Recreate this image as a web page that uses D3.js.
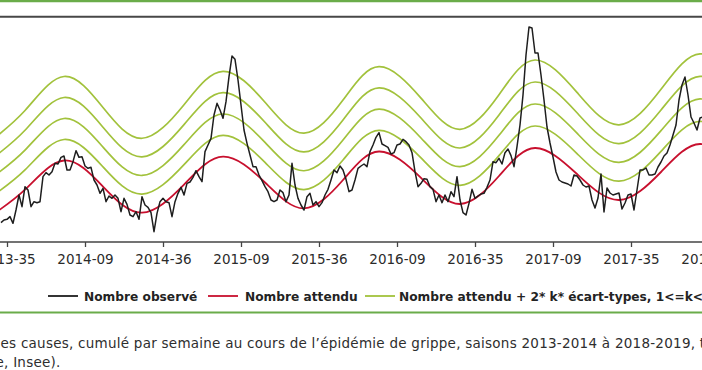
<!DOCTYPE html>
<html>
<head>
<meta charset="utf-8">
<script src="https://cdn.jsdelivr.net/npm/d3@7/dist/d3.min.js"></script>
<style>
  html, body { margin: 0; padding: 0; background: #fff; }
  svg { display: block; }
  text { font-family: "DejaVu Sans", sans-serif; }
</style>
</head>
<body>
<svg id="chart" width="702" height="370"></svg>
<script>
// ---- Data (weekly, index 0 = 2013-35) ----
const tickWeeks  = [0, 26, 52, 78, 104, 130, 156, 182, 208, 234];
const tickLabels = ["2013-35","2014-09","2014-36","2015-09","2015-36","2016-09","2016-35","2017-09","2017-35","2018-09"];

// Observed weekly deaths, starting at week index -2
const observedStart = -2;
const observed = [
  9580, 9660, 9680, 9760, 9560, 9960, 10410, 10060, 10660, 10560,
  10060, 10210, 10180, 10210, 10960, 11080, 11010, 11110, 11360, 11340,
  11540, 11580, 11160, 11160, 11410, 11740, 11540, 11560, 11280, 11210,
  11240, 10860, 10710, 10460, 10610, 10210, 10380, 10310, 10410, 10310,
  9910, 10310, 10130, 9810, 9760, 9910, 9680, 10360, 10110, 10040,
  9880, 9310, 9860, 10210, 10310, 10210, 10180, 9760, 10210, 10460,
  10640, 10410, 10760, 10800, 10940, 11140, 10960, 10810, 11710, 11910,
  12110, 12810, 13160, 12960, 12710, 13210, 13960, 14580, 14480, 13860,
  13110, 12360, 11960, 11610, 11260, 11260, 11010, 10840, 10660, 10510,
  10260, 10210, 10260, 10560, 10480, 10210, 10410, 11360, 10710, 10310,
  10110, 9960, 10360, 10460, 10110, 10210, 10060, 10180, 10410, 10580,
  10860, 11160, 11080, 11280, 11160, 10880, 10510, 10560,
  10860, 11210, 11280, 11340, 11260, 11710, 11910, 12140, 12280, 11940,
  11890, 11840, 11640, 11680, 11910, 11940, 12080, 12010, 11910, 11680,
  11110, 10660, 10760, 10900, 10880, 10660, 10580, 10210, 10410, 10180,
  10410, 10210, 10510, 10360, 10960, 10260, 9880, 9810, 10160, 10580,
  10310, 10380, 10440, 10460, 10640, 10860, 11410, 11380, 11510, 11340,
  11680, 11790, 11590, 11260, 11860,
  12510, 13410, 14610,
  15450, 15420, 14670, 14670, 14010, 13260, 12450, 11970, 11550, 11100,
  10860, 10800, 10770, 10740, 10680, 11010, 10980, 10860, 10710, 10650,
  10680, 10260, 10020, 10320, 11040, 9900, 10620, 10470, 10410, 10440,
  10470, 9990, 10170, 10410, 10440, 9960, 10560, 11160, 11160, 11220,
  11010, 11010, 11040, 11250, 11400, 11580, 11670, 11910, 12210, 12510,
  13260, 13710, 13950, 13410, 12750, 12570, 12360, 12720, 12750
];

// Expected (baseline) and standard deviation, read at sample weeks
const modelWeeks = [-7, 6, 19, 32, 45, 59, 72, 86, 99, 112, 124, 138, 151, 164, 176, 190, 204, 218, 231, 245];
const expected   = [9690, 10570, 11445, 10660, 9880, 10720, 11560, 10785, 10010, 10860, 11715, 10925, 10140, 10980, 11820, 11040, 10260, 11100, 11940, 11160];
const ecartType  = [279, 297, 315, 297, 279, 300, 320, 301, 282, 300, 318, 299, 280, 305, 330, 306, 282, 310, 338, 315];
const kLevels    = [1, 2, 3, 4];

const legendLabels = ["Nombre observé", "Nombre attendu", "Nombre attendu + 2* k* écart-types, 1<=k<=4"];
const captionLines = [
  "es causes, cumulé par semaine au cours de l’épidémie de grippe, saisons 2013-2014 à 2018-2019, tous âges",
  "e, Insee)."
];

// ---- Drawing ----
const svg = d3.select("#chart");
const W = 702;
const axisY = 242, topY = 16;

const x = d3.scaleLinear().domain([0, 234]).range([7, 709]);
const y = d3.scaleLinear().domain([9000, 15780]).range([axisY, topY]);

const colBlack = "#1e1e1e", colRed = "#c8102e", colGreen = "#a2c23c", colSep = "#6aac4a";

// top rules
svg.append("line").attr("x1", 0).attr("x2", W).attr("y1", 1).attr("y2", 1)
  .attr("stroke", colSep).attr("stroke-width", 2.3);
svg.append("line").attr("x1", 0).attr("x2", W).attr("y1", 16.7).attr("y2", 16.7)
  .attr("stroke", "#474747").attr("stroke-width", 2);

svg.append("defs").append("clipPath").attr("id", "plotclip")
  .append("rect").attr("x", 0).attr("y", topY + 1.5).attr("width", W).attr("height", axisY - topY - 1.5);

const plot = svg.append("g").attr("clip-path", "url(#plotclip)");

const modelRows = modelWeeks.map((w, i) => ({ w, e: expected[i], s: ecartType[i] }));

const smooth = d3.line().curve(d3.curveNatural);

kLevels.forEach(k => {
  plot.append("path")
    .attr("d", smooth(modelRows.map(r => [x(r.w), y(r.e + 2 * k * r.s)])))
    .attr("fill", "none").attr("stroke", colGreen).attr("stroke-width", 1.7);
});

plot.append("path")
  .attr("d", smooth(modelRows.map(r => [x(r.w), y(r.e)])))
  .attr("fill", "none").attr("stroke", colRed).attr("stroke-width", 1.8);

const obsLine = d3.line().x((d, i) => x(observedStart + i)).y(d => y(d));
plot.append("path")
  .attr("d", obsLine(observed))
  .attr("fill", "none").attr("stroke", colBlack).attr("stroke-width", 1.5)
  .attr("stroke-linejoin", "round");

// x axis
const xAxis = d3.axisBottom(x).tickValues(tickWeeks)
  .tickFormat((d, i) => tickLabels[i]).tickSize(5).tickSizeOuter(0);
const gx = svg.append("g").attr("transform", `translate(0,${axisY})`).call(xAxis);
gx.select(".domain").remove();
gx.selectAll(".tick line").attr("stroke", "#444").attr("stroke-width", 1.3);
gx.selectAll(".tick text").attr("fill", "#2b2b2b").attr("font-size", 13.5)
  .attr("font-family", "DejaVu Sans, sans-serif").attr("dy", 0).attr("y", 21.5);
svg.append("line").attr("x1", 0).attr("x2", W).attr("y1", axisY).attr("y2", axisY)
  .attr("stroke", "#444").attr("stroke-width", 1.6);

// legend
const legendItems = [
  { x1: 48, x2: 78, tx: 84, color: colBlack },
  { x1: 208, x2: 238, tx: 245, color: colRed },
  { x1: 365, x2: 395, tx: 399, color: colGreen }
];
const lg = svg.append("g");
legendItems.forEach((it, i) => {
  lg.append("line").attr("x1", it.x1).attr("x2", it.x2).attr("y1", 296).attr("y2", 296)
    .attr("stroke", it.color).attr("stroke-width", 1.8);
  lg.append("text").attr("x", it.tx).attr("y", 300.5).attr("font-size", 12.2)
    .attr("font-weight", "bold").attr("fill", "#232323").text(legendLabels[i]);
});

svg.append("line").attr("x1", 0).attr("x2", W).attr("y1", 312.5).attr("y2", 312.5)
  .attr("stroke", colSep).attr("stroke-width", 2.2);

// caption
svg.append("text").attr("x", 0.5).attr("y", 348.3).attr("font-size", 13.5)
  .attr("letter-spacing", 0.25).attr("fill", "#2e2e2e")
  .text(captionLines[0]);
svg.append("text").attr("x", -4.5).attr("y", 366.5).attr("font-size", 13.5)
  .attr("letter-spacing", 0.25).attr("fill", "#2e2e2e")
  .text(captionLines[1]);
</script>
</body>
</html>
